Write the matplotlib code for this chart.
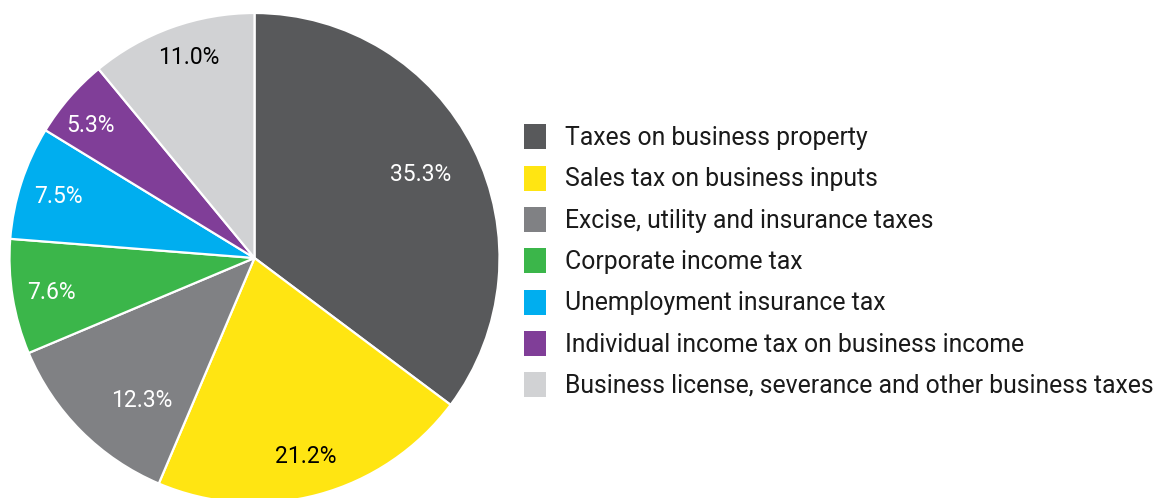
import matplotlib
matplotlib.use("Agg")
import matplotlib.pyplot as plt
from matplotlib.patches import Rectangle

W, H = 1174, 498

categories = [
    "Taxes on business property",
    "Sales tax on business inputs",
    "Excise, utility and insurance taxes",
    "Corporate income tax",
    "Unemployment insurance tax",
    "Individual income tax on business income",
    "Business license, severance and other business taxes",
]
shares = [35.3, 21.2, 12.3, 7.6, 7.5, 5.3, 11.0]
colors = ["#58595b", "#ffe512", "#808184", "#3bb64a", "#00aeef", "#803e98", "#d1d2d4"]
label_colors = ["white", "black", "white", "white", "white", "white", "black"]
# label positions in pie data coords (radius 1)
label_xy = [(0.68, 0.34), (0.21, -0.81), (-0.46, -0.58), (-0.83, -0.14),
            (-0.80, 0.25), (-0.67, 0.54), (-0.27, 0.82)]

plt.rcParams["font.family"] = ["Roboto", "DejaVu Sans"]

fig = plt.figure(figsize=(W / 100, H / 100), dpi=100)

# pie: centre (254.5, 258) px, radius 245 px
cx, cy, r = 254.5, 258, 245
ax = fig.add_axes([(cx - r) / W, 1 - (cy + r) / H, 2 * r / W, 2 * r / H])
ax.pie(shares, colors=colors, startangle=90, counterclock=False, radius=1,
       wedgeprops=dict(edgecolor="white", linewidth=1.6))
ax.set_xlim(-1, 1); ax.set_ylim(-1, 1)
ax.set_aspect("equal")
ax.axis("off")
for v, (x, y), c in zip(shares, label_xy, label_colors):
    ax.text(x, y, f"{v:.1f}%", ha="center", va="center", fontsize=16.5, color=c)

# legend drawn by hand
row0, step = 137, 41.3
for i, (name, col) in enumerate(zip(categories, colors)):
    yc = row0 + i * step
    fig.add_artist(Rectangle((524 / W, 1 - (yc + 12.5) / H), 22 / W, 25 / H,
                             transform=fig.transFigure, facecolor=col, edgecolor="none"))
    fig.text(565 / W, 1 - (yc + 1) / H, name, ha="left", va="center", fontsize=17.8,
             color="#1a1a1a")

fig.savefig("out.png", dpi=100)
